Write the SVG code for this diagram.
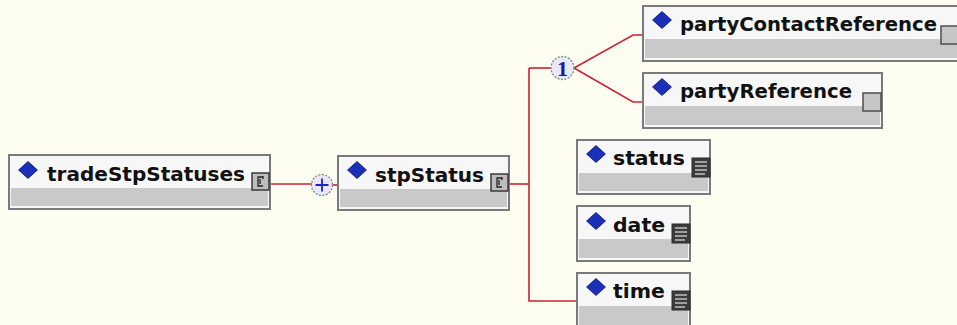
<svg xmlns="http://www.w3.org/2000/svg" width="957" height="325" viewBox="0 0 957 325">
<defs>
<style>
.box{fill:#F7F7F7;stroke:#7A7A7A;stroke-width:2}
.band{fill:#C9C9C9}
.lbl{font-family:"DejaVu Sans","Liberation Sans",sans-serif;font-weight:bold;font-size:20px;fill:#111}
.dia{fill:#1B2FB8;stroke:#0A1A80;stroke-width:0.8}
.cx{fill:#BDBDBD;stroke:#3A3A3A;stroke-width:1.5}
.ref{fill:#C6C6C6;stroke:#4E4E4E;stroke-width:1.5}
.smp{fill:#3C3C3C;stroke:#2A2A2A;stroke-width:1}
.smpl{stroke:#BFBFBF;stroke-width:1.6}
.con{fill:none;stroke:#CC2233;stroke-width:1.6}
.circ{fill:#E8E8F6;stroke:#7A8A7A;stroke-width:1.3;stroke-dasharray:2 1.5}
</style>
<symbol id="diamond" overflow="visible"><path class="dia" d="M0,-8.5 L9.5,0 L0,8.5 L-9.5,0 Z"/></symbol>
<symbol id="cxicon" overflow="visible"><rect class="cx" x="0" y="0" width="17" height="17"/><path d="M11,4 H6 V13 H11 M8,6 V11 M11,3 V6" fill="none" stroke="#222" stroke-width="1.3"/></symbol>
<symbol id="refIcon" overflow="visible"><rect class="ref" x="0" y="0" width="18" height="18"/></symbol>
<symbol id="smpIcon" overflow="visible"><rect class="smp" x="0" y="0" width="18" height="19"/><path class="smpl" d="M3,4 H15 M3,8 H15 M3,12 H15 M3,16 H13"/></symbol>
</defs>
<rect width="957" height="325" fill="#FDFDF1"/>

<g id="connectors">
<path class="con" d="M270,184 H312"/>
<path class="con" d="M332,185 H338"/>
<path class="con" d="M509,184 H529"/>
<path class="con" d="M529,68 V301 H577"/>
<path class="con" d="M529,68 H551"/>
<path class="con" d="M574,68 L633,35 H643"/>
<path class="con" d="M574,68 L633,102 H643"/>
</g>

<g id="seq1">
<circle class="circ" cx="322" cy="185" r="10.5"/>
<path d="M315.5,185 H328.5 M322,178.5 V191.5" stroke="#2222BB" stroke-width="1.8"/>
</g>

<g id="choice1">
<circle class="circ" cx="562.5" cy="68" r="11.5"/>
<text x="562.5" y="76" text-anchor="middle" font-family="Liberation Serif,serif" font-weight="bold" font-size="22" fill="#1A1AA0">1</text>
</g>

<g id="tradeStpStatuses">
<rect class="box" x="9" y="155" width="261" height="54"/>
<rect class="band" x="11" y="188" width="257" height="18"/>
<use href="#diamond" x="28" y="170"/>
<text class="lbl" x="47" y="181" textLength="198" lengthAdjust="spacingAndGlyphs">tradeStpStatuses</text>
<use href="#cxicon" x="252" y="173"/>
</g>

<g id="stpStatus">
<rect class="box" x="338" y="156" width="171" height="54"/>
<rect class="band" x="340" y="189" width="167" height="18"/>
<use href="#diamond" x="357" y="170"/>
<text class="lbl" x="375" y="182" textLength="109" lengthAdjust="spacingAndGlyphs">stpStatus</text>
<use href="#cxicon" x="491" y="174"/>
</g>

<g id="partyContactReference">
<rect class="box" x="643" y="6" width="320" height="55"/>
<rect class="band" x="645" y="39" width="316" height="19"/>
<use href="#diamond" x="662" y="20"/>
<text class="lbl" x="680" y="31" textLength="257" lengthAdjust="spacingAndGlyphs">partyContactReference</text>
<use href="#refIcon" x="941" y="26"/>
</g>

<g id="partyReference">
<rect class="box" x="643" y="73" width="239" height="55"/>
<rect class="band" x="645" y="106" width="235" height="19"/>
<use href="#diamond" x="662" y="87"/>
<text class="lbl" x="680" y="98" textLength="172" lengthAdjust="spacingAndGlyphs">partyReference</text>
<use href="#refIcon" x="863" y="93"/>
</g>

<g id="status">
<rect class="box" x="577" y="140" width="133" height="54"/>
<rect class="band" x="579" y="173" width="129" height="18"/>
<use href="#diamond" x="596" y="154"/>
<text class="lbl" x="613" y="165" textLength="72" lengthAdjust="spacingAndGlyphs">status</text>
<use href="#smpIcon" x="692" y="158"/>
</g>

<g id="date">
<rect class="box" x="577" y="206" width="113" height="55"/>
<rect class="band" x="579" y="239" width="109" height="19"/>
<use href="#diamond" x="596" y="221"/>
<text class="lbl" x="613" y="232" textLength="52" lengthAdjust="spacingAndGlyphs">date</text>
<use href="#smpIcon" x="672" y="224"/>
</g>

<g id="time">
<rect class="box" x="577" y="273" width="113" height="56"/>
<rect class="band" x="579" y="306" width="109" height="20"/>
<use href="#diamond" x="596" y="287"/>
<text class="lbl" x="613" y="298" textLength="52" lengthAdjust="spacingAndGlyphs">time</text>
<use href="#smpIcon" x="672" y="291"/>
</g>
</svg>
